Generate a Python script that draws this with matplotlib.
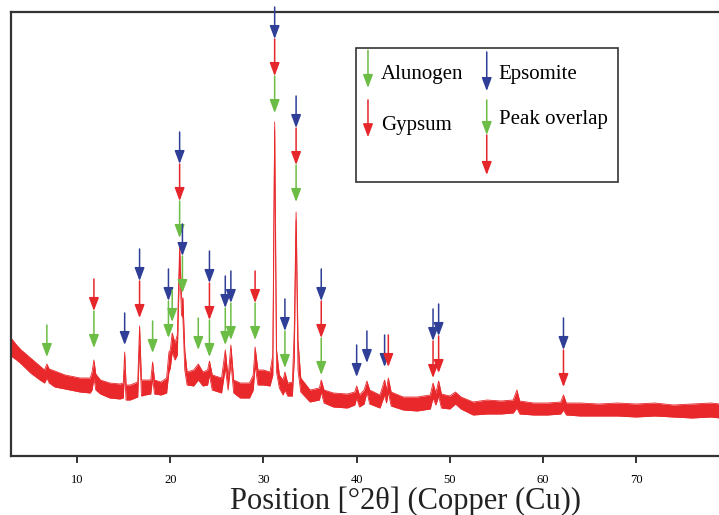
import numpy as np
import matplotlib.pyplot as plt
from matplotlib.patches import Rectangle

plt.rcParams['font.family'] = ['Liberation Serif', 'DejaVu Serif']

# XRD pattern: position (deg 2theta) and the upper / lower
# edge of the noisy trace (arbitrary intensity units)
two_theta = [2.9, 3.5, 4.0, 5.0, 6.0, 6.5, 6.75, 7.0, 7.6, 8.7, 10.3, 11.4, 11.6, 11.8,
             12.0, 12.5, 13.5, 14.6, 14.95, 15.1, 15.25, 15.7, 16.5, 16.7, 16.9, 17.3,
             17.9, 18.1, 18.3, 19.0, 19.6, 19.85, 20.0, 20.2, 20.5, 20.75, 21.0, 21.2,
             21.35, 21.55, 21.8, 22.5, 23.0, 23.5, 24.0, 24.2, 24.5, 25.5, 25.9, 26.2,
             26.5, 26.8, 27.5, 28.5, 28.9, 29.1, 29.4, 30.0, 30.7, 31.0, 31.2, 31.4,
             31.7, 32.1, 32.3, 32.6, 33.1, 33.3, 33.5, 33.7, 34.0, 35.0, 36.0, 36.2,
             36.5, 37.5, 39.0, 39.8, 40.0, 40.3, 40.8, 41.1, 41.4, 42.5, 43.0, 43.2,
             43.4, 43.7, 45.0, 46.5, 47.9, 48.2, 48.5, 48.8, 49.1, 50.0, 50.6, 51.2,
             52.5, 54.0, 55.5, 56.8, 57.2, 57.5, 59.0, 60.5, 61.9, 62.2, 62.5, 64.0,
             66.0, 68.0, 70.0, 72.0, 74.0, 76.0, 78.0, 79.0]
band_high = [118, 111, 106, 98, 90, 86, 92, 87, 85, 81, 78, 78, 84, 96,
             82, 76, 73, 72, 73, 104, 71, 71, 74, 130, 76, 76,
             76, 94, 76, 74, 78, 104, 106, 123, 113, 121, 211, 158,
             158, 106, 84, 86, 92, 84, 86, 95, 81, 78, 106, 78,
             111, 76, 73, 73, 81, 109, 86, 86, 84, 101, 334, 106,
             81, 76, 84, 73, 74, 126, 244, 116, 78, 66, 68, 76,
             66, 63, 62, 64, 70, 61, 66, 75, 66, 61, 76, 66,
             78, 64, 59, 59, 61, 73, 63, 75, 62, 60, 64, 59,
             54, 56, 55, 56, 66, 55, 53, 53, 54, 61, 53, 53,
             52, 53, 52, 53, 51, 52, 53, 52]
band_low = [100, 96, 92, 83, 76, 73, 78, 73, 69, 67, 64, 63, 66, 78,
            66, 62, 58, 57, 58, 86, 56, 56, 59, 111, 60, 61,
            62, 78, 62, 61, 63, 84, 88, 104, 96, 101, 196, 141,
            138, 86, 71, 70, 76, 70, 71, 81, 66, 63, 88, 66,
            94, 63, 58, 58, 66, 91, 71, 71, 70, 81, 326, 84,
            68, 61, 66, 60, 60, 96, 236, 86, 64, 54, 56, 64,
            53, 49, 48, 51, 58, 49, 52, 64, 52, 48, 61, 53,
            64, 50, 46, 45, 47, 58, 51, 60, 48, 47, 52, 47,
            41, 42, 42, 43, 48, 42, 41, 41, 42, 46, 41, 40,
            40, 40, 39, 40, 39, 38, 39, 38]

# identified reflections: position, phases from top arrow to bottom arrow,
# height of the lowest arrow tip
# A = Alunogen, G = Gypsum, E = Epsomite
peak_pos = [6.75, 11.8, 15.1, 16.7, 18.1, 19.8, 20.2, 21.0, 21.3, 23.0, 24.2, 25.9,
            26.5, 29.1, 31.2, 32.3, 33.5, 36.2, 40.0, 41.1, 43.0, 43.4, 48.2, 48.8, 62.2]
peak_phases = ['A', 'GA', 'E', 'EG', 'A', 'EA', 'A', 'EGA', 'EA', 'A', 'EGA', 'EA',
               'EA', 'GA', 'EGA', 'EA', 'EGA', 'EGA', 'E', 'E', 'E', 'G', 'EG', 'EG', 'EG']
peak_tip = [99, 108, 111, 138, 103, 118, 134, 218, 163, 106, 99, 111,
            116, 116, 343, 88, 254, 81, 79, 93, 89, 89, 78, 83, 69]

phase_colors = {'A': '#6cbd45', 'G': '#e5262b', 'E': '#2f3f97'}
trace_color = '#e8282b'


def draw_arrow(x0, y_tip, length, color, coords='data'):
    ax.annotate('', xy=(x0, y_tip), xytext=(x0, y_tip + length),
                xycoords=coords, textcoords=coords, annotation_clip=False,
                arrowprops=dict(arrowstyle='-|>,head_length=0.8,head_width=0.3',
                                color=color, lw=1.1, shrinkA=0, shrinkB=0))


fig = plt.figure(figsize=(7.19, 5.15), dpi=100)
ax = fig.add_axes([11 / 719, 59 / 515, 709 / 719, 444 / 515])

ax.fill_between(two_theta, band_low, band_high, color=trace_color, lw=0)
ax.plot(two_theta, band_high, color=trace_color, lw=0.6)
ax.plot(two_theta, band_low, color=trace_color, lw=0.6)

# stacked marker arrows
for pos, phases, tip in zip(peak_pos, peak_phases, peak_tip):
    n = len(phases)
    for i, ph in enumerate(phases):
        y_tip = tip + (n - 1 - i) * 37
        length = 32 if i == 0 else 37
        draw_arrow(pos, y_tip, length, phase_colors[ph])

ax.set_xlim(2.9, 79.0)
ax.set_ylim(0, 444)
ax.set_xticks([10, 20, 30, 40, 50, 60, 70])
ax.set_yticks([])
ax.tick_params(axis='x', direction='out', length=5, width=1.4, pad=8,
               labelsize=9, color='#333333')
for side in ['left', 'bottom', 'top']:
    ax.spines[side].set_linewidth(1.6)
    ax.spines[side].set_color('#333333')
ax.spines['right'].set_visible(False)

ax.set_xlabel('Position [°2θ] (Copper (Cu))', fontsize=22, color='#222222')
ax.xaxis.set_label_coords(0.556, -0.068)

# legend box drawn by hand
ax.add_patch(Rectangle((0.4866, 0.617), 0.369, 0.302, transform=ax.transAxes,
                       fill=False, edgecolor='#333333', lw=1.2))
draw_arrow(0.5035, 0.829, 0.085, phase_colors['A'], 'axes fraction')
draw_arrow(0.5035, 0.718, 0.084, phase_colors['G'], 'axes fraction')
draw_arrow(0.671, 0.822, 0.088, phase_colors['E'], 'axes fraction')
draw_arrow(0.671, 0.723, 0.079, phase_colors['A'], 'axes fraction')
draw_arrow(0.671, 0.633, 0.090, phase_colors['G'], 'axes fraction')
ax.text(0.522, 0.860, 'Alunogen', transform=ax.transAxes, fontsize=15, va='center')
ax.text(0.522, 0.745, 'Gypsum', transform=ax.transAxes, fontsize=15, va='center')
ax.text(0.688, 0.860, 'Epsomite', transform=ax.transAxes, fontsize=15, va='center')
ax.text(0.688, 0.757, 'Peak overlap', transform=ax.transAxes, fontsize=15, va='center')

fig.savefig('out.png', dpi=100)
